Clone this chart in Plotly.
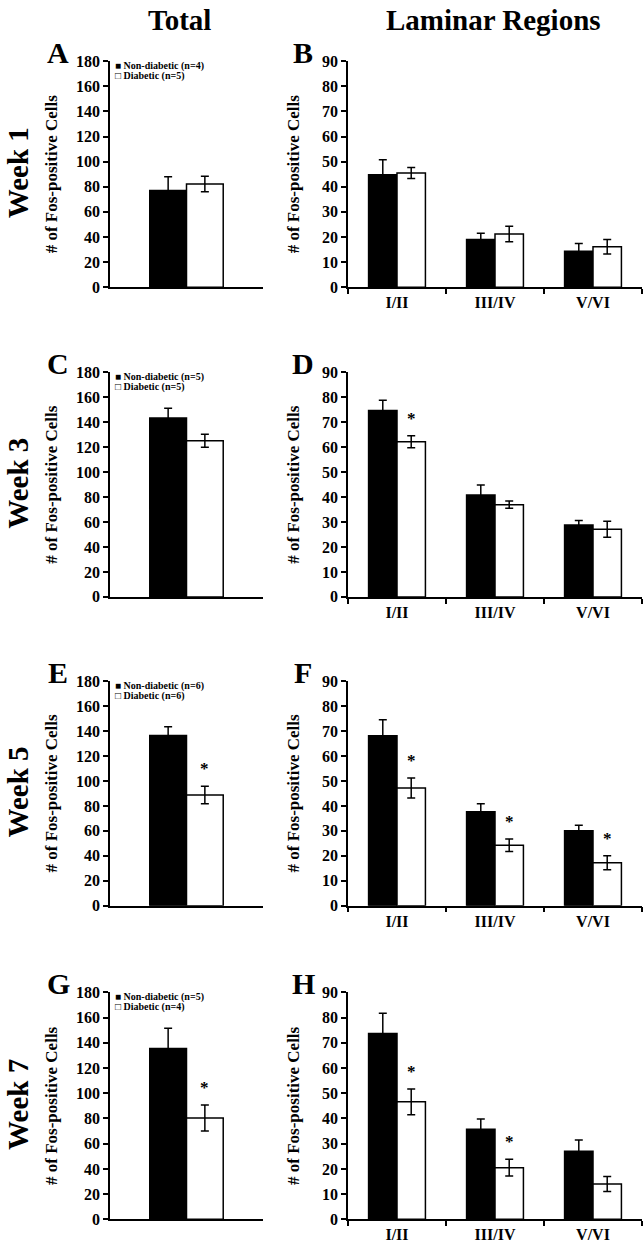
import plotly.graph_objects as go

# ---------------- data ----------------
weeks = ["Week 1", "Week 3", "Week 5", "Week 7"]
panel_total = ["A", "C", "E", "G"]
panel_lam = ["B", "D", "F", "H"]
n_nondiab = [4, 5, 6, 5]
n_diab = [5, 5, 6, 4]

total_nondiab = [77, 143.4, 136.5, 135.6]
total_nondiab_err = [11, 8, 7, 16]
total_diab = [82.2, 125.3, 88.8, 80.4]
total_diab_err = [6.2, 5.2, 7.0, 10.3]
total_sig = [False, False, True, True]

regions = ["I/II", "III/IV", "V/VI"]
lam_nondiab = [
    [44.8, 19.0, 14.3],
    [74.8, 40.9, 28.8],
    [68.1, 37.7, 30.0],
    [73.7, 35.7, 27.0],
]
lam_nondiab_err = [
    [6.0, 2.5, 3.1],
    [4.1, 4.0, 1.8],
    [6.5, 3.2, 2.2],
    [8.0, 4.1, 4.5],
]
lam_diab = [
    [45.5, 21.2, 16.1],
    [62.2, 37.0, 27.1],
    [47.2, 24.2, 17.2],
    [46.6, 20.5, 14.0],
]
lam_diab_err = [
    [2.2, 3.1, 2.9],
    [2.4, 1.5, 3.2],
    [4.0, 2.5, 2.8],
    [5.1, 3.3, 3.0],
]
lam_sig = [
    [False, False, False],
    [True, False, False],
    [True, True, True],
    [True, True, False],
]
total_ticks = [0, 20, 40, 60, 80, 100, 120, 140, 160, 180]
lam_ticks = [0, 10, 20, 30, 40, 50, 60, 70, 80, 90]

# ---------------- layout helpers ----------------
W, H = 644, 1251
FONT = "Liberation Serif"


def px_x(v):
    return v / W


def px_y(v):
    return 1 - v / H


rows_px = [(54, 283), (369.5, 597), (682.5, 910), (998, 1228)]
xdom_total = [px_x(110), px_x(263)]
xdom_lam = [px_x(348), px_x(642)]

TW = 0.24   # bar width, total panels (data units)
LW = 0.29   # bar width, laminar panels

fig = go.Figure()
annotations = []
layout = {}

err_style = dict(type="data", color="black", thickness=1.5, width=4, visible=True)

for r in range(4):
    top, bot = rows_px[r]
    ydom = [px_y(bot), px_y(top)]
    ia = 2 * r + 1
    ib = 2 * r + 2
    xa, ya = f"x{ia}", f"y{ia}"
    xb, yb = f"x{ib}", f"y{ib}"

    # ----- total panel -----
    fig.add_trace(go.Bar(
        x=[0], y=[total_nondiab[r]], width=TW, offset=-TW,
        marker=dict(color="black", line=dict(color="black", width=1.5)),
        error_y=dict(array=[total_nondiab_err[r]], **err_style),
        name=f"Non-diabetic (n={n_nondiab[r]})", showlegend=False,
        xaxis=xa, yaxis=ya))
    fig.add_trace(go.Bar(
        x=[0], y=[total_diab[r]], width=TW, offset=0,
        marker=dict(color="white", line=dict(color="black", width=1.5)),
        error_y=dict(array=[total_diab_err[r]], **err_style),
        name=f"Diabetic (n={n_diab[r]})", showlegend=False,
        xaxis=xa, yaxis=ya))
    if total_sig[r]:
        annotations.append(dict(
            x=TW / 2, y=total_diab[r] + total_diab_err[r], xref=xa, yref=ya,
            text="*", showarrow=False, yanchor="bottom", yshift=6,
            font=dict(family=FONT, size=17, color="black", weight="bold")))

    # ----- laminar panel -----
    xs = list(range(len(regions)))
    fig.add_trace(go.Bar(
        x=xs, y=lam_nondiab[r], width=LW, offset=-LW,
        marker=dict(color="black", line=dict(color="black", width=1.5)),
        error_y=dict(array=lam_nondiab_err[r], **err_style),
        name="Non-diabetic", showlegend=False, xaxis=xb, yaxis=yb))
    fig.add_trace(go.Bar(
        x=xs, y=lam_diab[r], width=LW, offset=0,
        marker=dict(color="white", line=dict(color="black", width=1.5)),
        error_y=dict(array=lam_diab_err[r], **err_style),
        name="Diabetic", showlegend=False, xaxis=xb, yaxis=yb))
    for i, s in enumerate(lam_sig[r]):
        if s:
            annotations.append(dict(
                x=i + LW / 2, y=lam_diab[r][i] + lam_diab_err[r][i],
                xref=xb, yref=yb, text="*", showarrow=False,
                yanchor="bottom", yshift=6,
                font=dict(family=FONT, size=17, color="black", weight="bold")))

    tickfont = dict(family=FONT, size=16, color="black", weight="bold")
    titlefont = dict(family=FONT, size=17, color="black", weight="bold")
    yax_common = dict(
        showline=True, linecolor="black", linewidth=1.5, ticks="outside",
        ticklen=5, tickwidth=1.5, tickcolor="black", showgrid=False,
        zeroline=False, tickfont=tickfont, tickmode="array")

    layout[f"xaxis{ia}"] = dict(
        domain=xdom_total, anchor=ya, range=[-0.5, 0.5], showline=True,
        linecolor="black", linewidth=1.5, showticklabels=False, ticks="",
        showgrid=False, zeroline=False)
    layout[f"yaxis{ia}"] = dict(
        domain=ydom, anchor=xa, range=[0, 180], tickvals=total_ticks,
        title=dict(text="# of Fos-positive Cells", font=titlefont, standoff=14),
        **yax_common)
    layout[f"xaxis{ib}"] = dict(
        domain=xdom_lam, anchor=yb, range=[-0.5, len(regions) - 0.5],
        showline=True, linecolor="black", linewidth=1.5,
        tickmode="array", tickvals=xs, ticktext=regions, ticks="",
        tickfont=tickfont, showgrid=False, zeroline=False,
        minor=dict(tickmode="array",
                   tickvals=[i + 0.5 for i in range(-1, len(regions))],
                   ticks="outside", ticklen=5, tickwidth=1.5,
                   tickcolor="black", showgrid=False))
    layout[f"yaxis{ib}"] = dict(
        domain=ydom, anchor=xb, range=[0, 90], tickvals=lam_ticks,
        title=dict(text="# of Fos-positive Cells", font=titlefont, standoff=18),
        **yax_common)

    # legend (total panel) as text lines
    annotations.append(dict(
        x=px_x(113), y=px_y(top + 5), xref="paper", yref="paper",
        text=f"■ Non-diabetic (n={n_nondiab[r]})", showarrow=False,
        xanchor="left", yanchor="middle",
        font=dict(family=FONT, size=10, color="black", weight="bold")))
    annotations.append(dict(
        x=px_x(113), y=px_y(top + 15), xref="paper", yref="paper",
        text=f"□ Diabetic (n={n_diab[r]})", showarrow=False,
        xanchor="left", yanchor="middle",
        font=dict(family=FONT, size=10, color="black", weight="bold")))

    # panel letters
    annotations.append(dict(
        x=px_x(58), y=px_y(top - 9), xref="paper", yref="paper",
        text=panel_total[r], showarrow=False, xanchor="center", yanchor="middle",
        font=dict(family=FONT, size=30, color="black", weight="bold")))
    annotations.append(dict(
        x=px_x(303), y=px_y(top - 9), xref="paper", yref="paper",
        text=panel_lam[r], showarrow=False, xanchor="center", yanchor="middle",
        font=dict(family=FONT, size=30, color="black", weight="bold")))

    # week label
    annotations.append(dict(
        x=px_x(18), y=px_y((top + bot) / 2 - 1), xref="paper", yref="paper",
        text=weeks[r], showarrow=False, textangle=-90,
        xanchor="center", yanchor="middle",
        font=dict(family=FONT, size=29, color="black", weight="bold")))

# column headers
annotations.append(dict(
    x=px_x(180), y=px_y(12), xref="paper", yref="paper", text="Total",
    showarrow=False, xanchor="center", yanchor="middle",
    font=dict(family=FONT, size=29, color="black", weight="bold")))
annotations.append(dict(
    x=px_x(493), y=px_y(12), xref="paper", yref="paper", text="Laminar Regions",
    showarrow=False, xanchor="center", yanchor="middle",
    font=dict(family=FONT, size=29, color="black", weight="bold")))

fig.update_layout(
    width=W, height=H, margin=dict(l=0, r=0, t=0, b=0),
    paper_bgcolor="white", plot_bgcolor="white", barmode="overlay",
    showlegend=False, annotations=annotations,
    font=dict(family=FONT, color="black"), **layout)

fig.write_html("out.html", config={"displayModeBar": False},
               post_script="document.body.style.margin='0';")
